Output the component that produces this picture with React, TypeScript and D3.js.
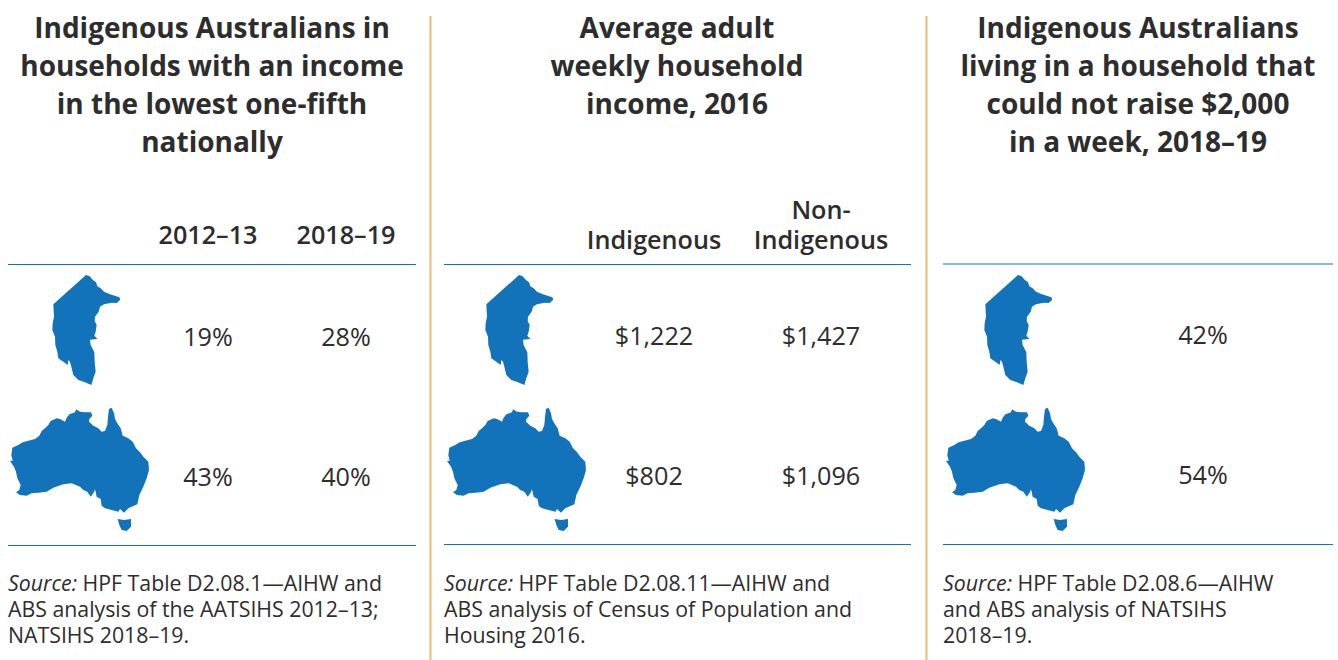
import React from 'react';
import * as d3 from 'd3';

type Pt = [number, number];

// traced outlines, in the units of a 480-wide drawing
const qldOutline: Pt[] = [[258,30],[268,33],[278,44],[288,52],[292,64],[302,70],[312,80],[330,88],[358,97],[361,104],[350,114],[335,113],[312,118],[300,125],[296,140],[285,155],[284,168],[290,180],[287,200],[283,212],[292,222],[270,224],[272,240],[283,262],[284,290],[287,320],[280,340],[274,360],[255,352],[235,345],[220,330],[214,305],[210,290],[205,285],[203,300],[190,290],[175,280],[172,260],[166,240],[165,215],[157,195],[158,175],[162,155],[160,118]];
const ausOutline: Pt[] = [[30,198],[38,197],[34,180],[37,158],[55,150],[68,142],[85,137],[105,132],[118,122],[125,108],[135,100],[145,90],[152,78],[170,70],[180,72],[195,80],[200,68],[208,58],[225,52],[228,43],[240,50],[255,52],[273,52],[277,62],[268,72],[267,80],[280,92],[295,100],[305,110],[315,108],[322,90],[324,65],[327,42],[335,38],[342,55],[345,72],[352,85],[362,100],[368,122],[385,130],[398,140],[408,160],[420,172],[430,185],[445,200],[447,225],[440,250],[430,275],[418,300],[412,328],[395,335],[385,340],[372,353],[360,342],[355,350],[335,345],[315,340],[305,332],[302,312],[290,305],[285,283],[280,295],[272,305],[262,290],[250,285],[240,275],[215,265],[190,268],[160,278],[140,290],[115,293],[95,295],[80,302],[60,300],[48,292],[58,285],[62,270],[52,250],[48,230],[42,215]];
const tasOutline: Pt[] = [[353,372],[372,375],[393,372],[393,395],[380,408],[365,405],[358,390]];

const titles = [
  ['Indigenous Australians in', 'households with an income', 'in the lowest one-fifth', 'nationally'],
  ['Average adult', 'weekly household', 'income, 2016'],
  ['Indigenous Australians', 'living in a household that', 'could not raise $2,000', 'in a week, 2018–19'],
];
const columns = [['2012–13', '2018–19'], ['Indigenous', 'Non-Indigenous'], ['']];
const lowestFifth = [['19%', '28%'], ['43%', '40%']];
const weeklyIncome = [['$1,222', '$1,427'], ['$802', '$1,096']];
const couldNotRaise = [['42%'], ['54%']];
const sources = [
  ['HPF Table D2.08.1—AIHW and', 'ABS analysis of the AATSIHS 2012–13;', 'NATSIHS 2018–19.'],
  ['HPF Table D2.08.11—AIHW and', 'ABS analysis of Census of Population and', 'Housing 2016.'],
  ['HPF Table D2.08.6—AIHW', 'and ABS analysis of NATSIHS', '2018–19.'],
];

const ink = '#2d2d2d';
const blue = '#1273bb';
const orange = '#f6b878';
const font = '"Open Sans", sans-serif';

const panels = [
  { cx: 212, left: 8, right: 416, columnX: [208, 346], cells: lowestFifth, qldDx: 0, ausDx: 0, rowY: [337, 477], ruleTop: 264.5, ruleBottom: 545.5 },
  { cx: 677, left: 444, right: 911, columnX: [654, 821], cells: weeklyIncome, qldDx: 433, ausDx: 437, rowY: [336, 476], ruleTop: 264.5, ruleBottom: 544.5 },
  { cx: 1138, left: 943, right: 1333, columnX: [1203], cells: couldNotRaise, qldDx: 932, ausDx: 936, rowY: [335, 475], ruleTop: 264, ruleBottom: 544.5 },
];

const sx = d3.scaleLinear().domain([0, 480]).range([0, 160]);
const syQld = d3.scaleLinear().domain([0, 390]).range([265, 395]);
const syAus = d3.scaleLinear().domain([0, 435]).range([395, 540]);

const outlinePath = (pts: Pt[], y: d3.ScaleLinear<number, number>) =>
  d3.line<Pt>().x((d) => sx(d[0])).y((d) => y(d[1])).curve(d3.curveLinearClosed)(pts) ?? '';

const App = () => (
  <svg width={1338} height={660} style={{ position: 'absolute', left: 0, top: 0, background: '#fff' }} fontFamily={font}>
    {[430.5, 926.5].map((x) => (
      <line key={x} x1={x} x2={x} y1={16} y2={660} stroke={orange} strokeWidth={2} />
    ))}
    {panels.map((p, i) => (
      <g key={i}>
        {titles[i].map((t, j) => (
          <text key={j} x={p.cx} y={37.5 + j * 38} textAnchor="middle" fontSize={28} fontWeight={700} fill={ink}>{t}</text>
        ))}
        {columns[i].map((c, j) => {
          if (c === 'Non-Indigenous') {
            return (
              <g key={j} fontSize={25.2} fontWeight={600} fill={ink} textAnchor="middle">
                <text x={p.columnX[j]} y={219}>Non-</text>
                <text x={p.columnX[j]} y={249}>Indigenous</text>
              </g>
            );
          }
          return (
            <text key={j} x={p.columnX[j]} y={i === 0 ? 244 : 249} textAnchor="middle" fontSize={25.2} fontWeight={600} fill={ink}>{c}</text>
          );
        })}
        <line x1={p.left} x2={p.right} y1={p.ruleTop} y2={p.ruleTop} stroke={blue} strokeWidth={1} />
        <line x1={p.left} x2={p.right} y1={p.ruleBottom} y2={p.ruleBottom} stroke={blue} strokeWidth={1} />
        <path d={outlinePath(qldOutline, syQld)} fill={blue} transform={`translate(${p.qldDx},0)`} />
        <g transform={`translate(${p.ausDx},0)`} fill={blue}>
          <path d={outlinePath(ausOutline, syAus)} />
          <path d={outlinePath(tasOutline, syAus)} />
        </g>
        {p.cells.map((row, r) =>
          row.map((v, c) => (
            <text key={`${r}-${c}`} x={p.columnX[c]} y={p.rowY[r] + 8.5} textAnchor="middle" fontSize={25.2} fill={ink}>{v}</text>
          ))
        )}
        {sources[i].map((s, j) => (
          <text key={j} x={p.left} y={590.5 + j * 26} fontSize={21.3} fill={ink}>
            {j === 0 && <tspan fontStyle="italic">Source: </tspan>}
            {s}
          </text>
        ))}
      </g>
    ))}
  </svg>
);

export default App;
